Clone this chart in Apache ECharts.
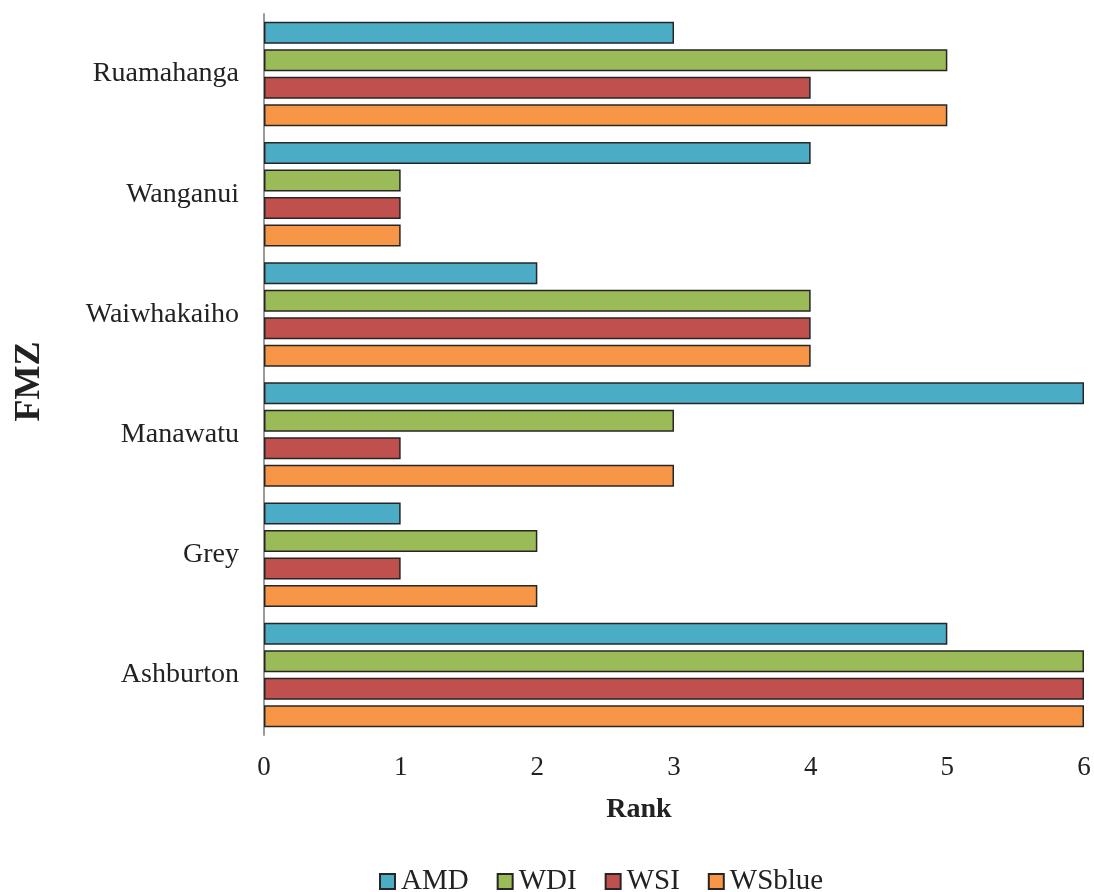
<!DOCTYPE html>
<html>
<head>
<meta charset="utf-8">
<script src="https://cdn.jsdelivr.net/npm/echarts@6/dist/echarts.min.js"></script>
<style>
  html, body { margin: 0; padding: 0; background: #fff; }
  #chart { width: 1094px; height: 892px; }
</style>
</head>
<body>
<div id="chart"></div>
<script>
// FMZ zones, listed top to bottom
const zones = ['Ruamahanga', 'Wanganui', 'Waiwhakaiho', 'Manawatu', 'Grey', 'Ashburton'];
const seriesNames = ['AMD', 'WDI', 'WSI', 'WSblue'];
const amd    = [3, 4, 2, 6, 1, 5];
const wdi    = [5, 1, 4, 3, 2, 6];
const wsi    = [4, 1, 4, 1, 1, 6];
const wsblue = [5, 1, 4, 3, 2, 6];
const rankTicks = [0, 1, 2, 3, 4, 5, 6];

const colors = ['#4BACC6', '#9BBB59', '#C0504D', '#F79646'];
const values = [amd, wdi, wsi, wsblue];
const font = '"Liberation Serif", "DejaVu Serif", serif';

const chart = echarts.init(document.getElementById('chart'));
chart.setOption({
  animation: false,
  textStyle: { fontFamily: font, color: '#222' },
  grid: { left: 264, right: 10, top: 14, bottom: 157, containLabel: false, outerBoundsMode: 'none' },
  legend: {
    data: seriesNames,
    top: 862,
    left: 374,
    icon: 'rect',
    itemWidth: 15,
    itemHeight: 15,
    itemGap: 28,
    textStyle: { fontFamily: font, fontSize: 29, color: '#222', padding: [0, 0, 0, 1] }
  },
  xAxis: {
    type: 'value',
    min: rankTicks[0],
    max: rankTicks[rankTicks.length - 1],
    interval: 1,
    name: 'Rank',
    nameLocation: 'middle',
    nameGap: 61,
    nameTextStyle: { fontFamily: font, fontSize: 28, fontWeight: 'bold', color: '#222', padding: [0, 70, 0, 0] },
    axisLine: { show: false },
    axisTick: { show: false },
    splitLine: { show: false },
    axisLabel: { fontFamily: font, fontSize: 27, color: '#222', margin: 19 }
  },
  yAxis: {
    type: 'category',
    data: zones,
    inverse: true,
    name: 'FMZ',
    nameLocation: 'middle',
    nameGap: 216,
    nameRotate: 90,
    nameTextStyle: { fontFamily: font, fontSize: 36, fontWeight: 'bold', color: '#222', padding: [0, 14, 0, 0] },
    axisLine: { show: true, lineStyle: { color: '#9a9a9a', width: 2 } },
    axisTick: { show: false },
    axisLabel: { fontFamily: font, fontSize: 28, color: '#222', margin: 25 }
  },
  series: seriesNames.map((name, i) => ({
    name,
    type: 'bar',
    data: values[i],
    barCategoryGap: '13%',
    barGap: '25%',
    itemStyle: { color: colors[i], borderColor: '#262626', borderWidth: 1.5 }
  }))
});
</script>
</body>
</html>
